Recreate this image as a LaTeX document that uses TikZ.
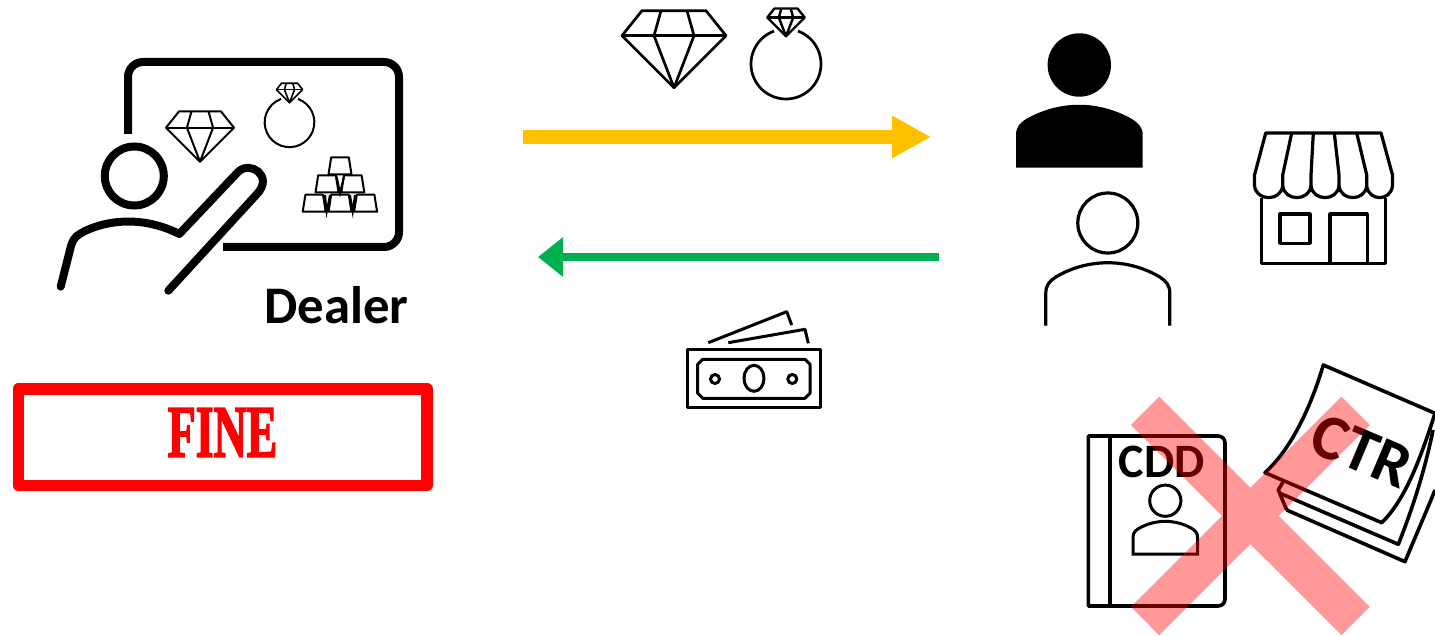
\documentclass[tikz,border=0pt]{standalone}
\usepackage{fontspec}
\setmainfont{Carlito}
\newfontfamily\finefont[BoldFeatures={FakeBold=2.5}]{Liberation Serif}
\definecolor{goldarrow}{RGB}{255,192,0}
\definecolor{cashgreen}{RGB}{0,176,80}
\definecolor{finered}{RGB}{255,0,0}
\usetikzlibrary{arrows.meta,positioning}

\begin{document}
\begin{tikzpicture}[
      x=0.5pt, y=-0.5pt,
      goldarr/.style={-{Triangle[length=19.5pt,width=20pt]}, line width=7pt, goldarrow},
      casharr/.style={-{Triangle[length=12.5pt,width=19pt]}, line width=4pt, cashgreen},
      label/.style={font=\bfseries\fontsize{26.4}{26.4}\selectfont, inner sep=0pt},
      gem/.pic={
        \draw[line join=round] (-32,-25) -- (32,-25) -- (52,0) -- (0,52) -- (-52,0) -- cycle;
        \draw (-52,0) -- (52,0);
        \draw[line join=round] (-13,-25) -- (-20,0) -- (0,52) -- (20,0) -- (13,-25);
      },
      ring/.pic={
        \draw (-70:35) arc[start angle=-70, end angle=250, radius=35];
      },
      goldbar/.pic={
        \draw[line join=round] (-11.5,0) -- (-8.8,-17) -- (8.8,-17) -- (11.5,0) -- cycle;
      },
      usershape/.pic={
        \draw (0,0) circle[radius=30];
        \draw (-62,102.7) -- (-62,70) .. controls (-62,62) and (-58,58) .. (-52,54)
          .. controls (-20,35) and (20,35) .. (52,54)
          .. controls (58,58) and (62,62) .. (62,70) -- (62,102.7) -- cycle;
      },
      useropen/.pic={
        \draw (0,0) circle[radius=30];
        \draw (-62,102.7) -- (-62,70) .. controls (-62,62) and (-58,58) .. (-52,54)
          .. controls (-20,35) and (20,35) .. (52,54)
          .. controls (58,58) and (62,62) .. (62,70) -- (62,102.7);
      }
    ]
    \useasboundingbox (0,0) rectangle (1435,636);

    \draw[line width=4pt, rounded corners=7.5pt] (128,134) -- (128,62) -- (399,62) -- (399,247) -- (223,247);
    \draw[line width=4pt] (134.3,176) circle[radius=29.5];
    \draw[line width=4pt, line cap=round, line join=round] (60.7,286.7) -- (71,246)
      .. controls (74,236) and (78,235) .. (85,231)
      .. controls (115,217) and (150,219) .. (179.3,234) -- (238,172)
      .. controls (250,160) and (274,176) .. (257,194) -- (168.3,290.7);
    \pic[line width=1pt, scale=.654] (gemdealer) at (200,127.7) {gem};
    \pic[line width=1pt, scale=.71] (ringdealer) at (289.5,122.3) {ring};
    \pic[line width=.8pt, scale=.252] (stonedealer) at (289.5,89.6) {gem};
    \begin{scope}[line width=1pt]
      \foreach \barx/\bary in {340/174.3, 327/192.3, 352.8/192.3, 314.2/211.7, 340/211.7, 365.6/211.7}
        \pic at (\barx,\bary) {goldbar};
      \draw (336.7,176.7) -- (340,193) -- (344,176.7);
      \draw (325,195) -- (326.7,211.7) -- (330,195);
      \draw (350,195) -- (352.7,211.7) -- (355,195);
    \end{scope}
    \node[label, anchor=base] (dealer) at (336.5,323) {Dealer};

    \draw[finered, line width=5.85pt, line join=round] (18.5,388.7) rectangle (427,485.5);
    \node[inner sep=0pt, finered, font=\finefont\bfseries\fontsize{37}{37}\selectfont, anchor=base] (fine) at (222.5,456.7) {\scalebox{.62}[1]{FINE}};

    \pic[line width=1.35pt] (gemtop) at (674,35.7) {gem};
    \pic[line width=1.35pt] (ringtop) at (786,64) {ring};
    \pic[line width=1.2pt, scale=.36] (stonetop) at (786,17.5) {gem};

    \coordinate (goldstart) at (523,137);
    \coordinate (goldend) at (931,137);
    \coordinate (cashstart) at (939,257);
    \coordinate (cashend) at (538,257);
    \draw[goldarr] (goldstart) -- (goldend);
    \draw[casharr] (cashstart) -- (cashend);

    \begin{scope}[line width=1.5pt, line join=round]
      \draw (708.3,342.7) -- (786.7,311.7) -- (791.7,325);
      \draw (728.3,342.7) -- (805,329.3) -- (808.3,343.3);
      \draw (687.3,349.3) rectangle (820,407.7);
      \draw (702.7,359.3) -- (805,359.3) -- (810,364.3) -- (810,393.3) -- (805,398.3)
        -- (702.7,398.3) -- (697.7,393.3) -- (697.7,364.3) -- cycle;
      \draw (754,378.3) ellipse[x radius=10, y radius=13];
      \draw (715,379) circle[radius=4.5];
      \draw (792.3,379) circle[radius=4.5];
    \end{scope}

    \fill (1079.3,65) circle[radius=31.7];
    \fill (1016,167.7) -- (1016,135) .. controls (1016,127) and (1020,123) .. (1026,119)
      .. controls (1060,100) and (1098,100) .. (1132,119)
      .. controls (1138,123) and (1142.7,127) .. (1142.7,135) -- (1142.7,167.7) -- cycle;
    \pic[line width=1.6pt] (buyer) at (1107.8,223) {useropen};

    \begin{scope}[line width=1.6pt, line join=round]
      \draw (1254.5,186) -- (1254.5,175) -- (1265.7,133) -- (1381,133) -- (1392.5,175) -- (1392.5,186);
      \foreach \xa/\xb in {1254.5/1282.7, 1282.7/1311, 1311/1339, 1339/1366.7, 1366.7/1392.5}
        \draw (\xa,186) .. controls (\xa+2,201.5) and (\xb-2,201.5) .. (\xb,186);
      \foreach \xt/\xb in {1291.7/1282.7, 1313.3/1311, 1334.3/1339, 1356.7/1366.7}
        \draw (\xt,133) -- (\xb,175) -- (\xb,186);
      \draw (1261.7,198) -- (1261.7,263.3) -- (1385.7,263.3) -- (1385.7,198);
      \draw (1280,214) rectangle (1310,243.3);
      \draw (1330,263.3) -- (1330,214) -- (1367.3,214) -- (1367.3,263.3);
    \end{scope}

    \begin{scope}[line width=1.8pt, line join=round]
      \draw (1218,436) -- (1088.3,436) -- (1088.3,606) -- (1218,606)
        .. controls (1222,606) and (1225,603) .. (1225,599) -- (1225,443)
        .. controls (1225,439) and (1222,436) .. (1218,436);
      \draw (1110,436) -- (1110,606);
    \end{scope}
    \node[label, anchor=base, font=\bfseries\fontsize{24}{24}\selectfont] (cdd) at (1161.7,477) {CDD};
    \pic[line width=1.5pt, scale=.52] (cddface) at (1165.3,500.7) {usershape};

    \begin{scope}[line width=1.8pt, line join=round]
      \draw (1323.3,365) -- (1435,413.3) .. controls (1420,460) and (1405,500) .. (1381.7,522.7)
        -- (1265,472.7) .. controls (1290,450) and (1310,410) .. (1323.3,365) -- cycle;
      \draw (1283,482) -- (1278.3,490) -- (1286.7,510);
      \draw (1280,493.3) -- (1398.3,544.3) .. controls (1412,510) and (1425,470) .. (1433,430);
      \draw (1286.7,510) -- (1405,561.7) .. controls (1416,535) and (1427,510) .. (1435,490);
    \end{scope}
    \node[label, rotate=-23, font=\bfseries\fontsize{32}{32}\selectfont] (ctr) at (1362,451) {CTR};

    \draw[finered, opacity=.4, line width=20pt] (1145,410.8) -- (1355.7,621)
      (1355.7,410.8) -- (1145,621);
  \end{tikzpicture}
\end{document}
